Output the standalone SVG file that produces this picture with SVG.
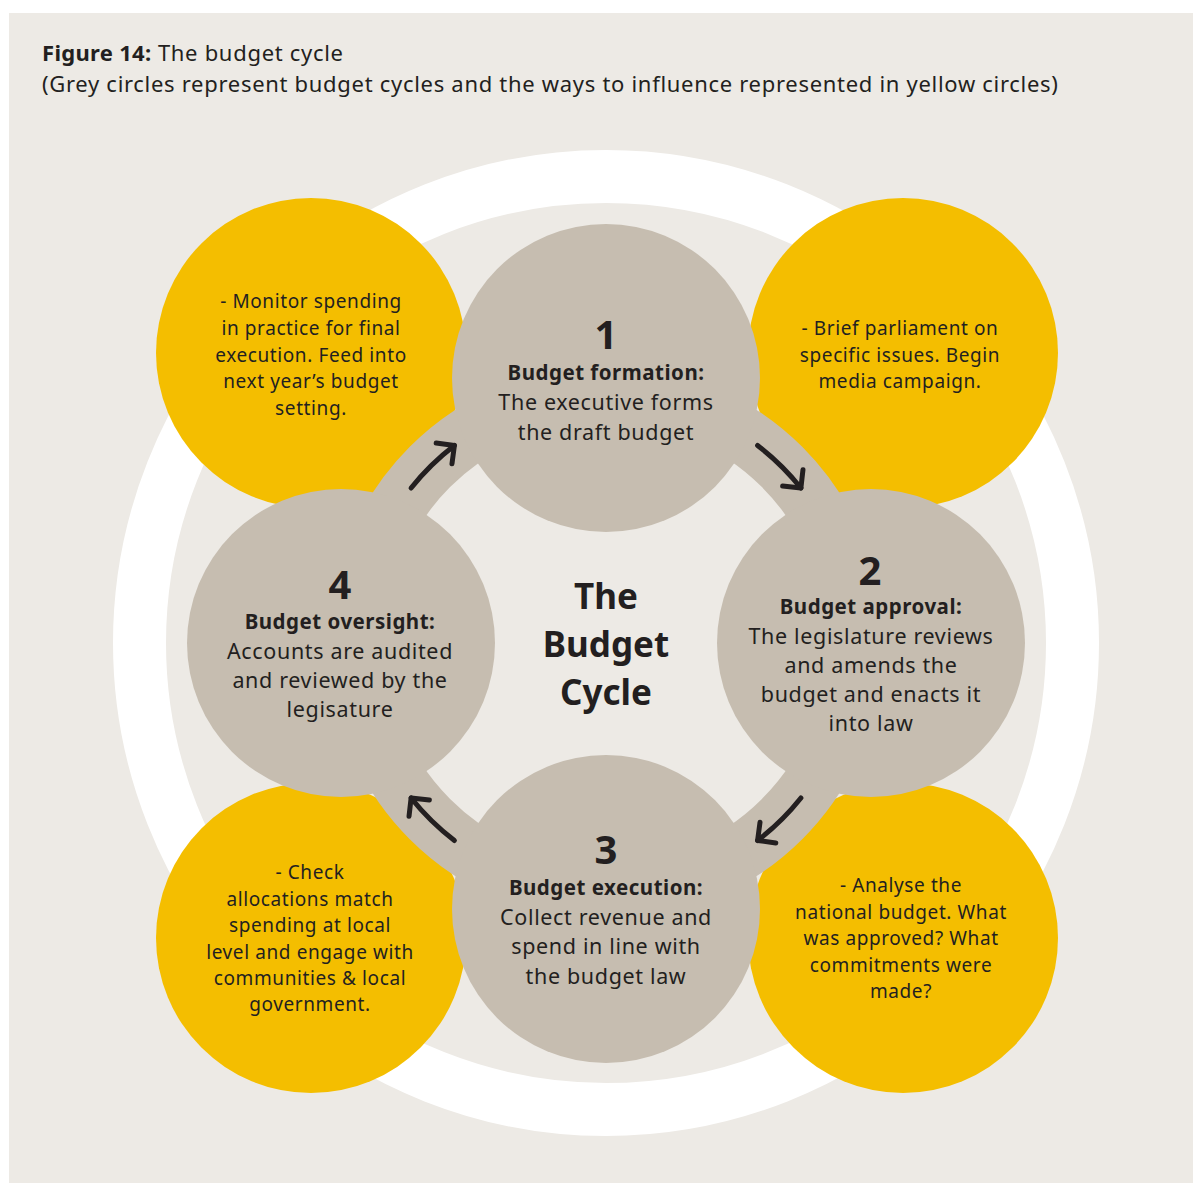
<svg xmlns="http://www.w3.org/2000/svg" width="1193" height="1183" viewBox="0 0 1193 1183">
<defs>
<style>
text{font-family:"Noto Sans","Liberation Sans",sans-serif;fill:#231f20;text-anchor:middle}
.title{text-anchor:start;font-size:22px;letter-spacing:0.7px}
.b{font-weight:bold;letter-spacing:0.3px}
.num{font-size:40px;font-weight:bold}
.head{font-size:20.5px;font-weight:bold;letter-spacing:0.5px}
.body{font-size:21.5px;letter-spacing:0.65px}
.yel{font-size:19px;letter-spacing:0.6px}
.center{font-size:35px;font-weight:bold}
.grey{fill:#c6bdb0}
.yellow{fill:#f4be00}
.arrow{fill:none;stroke:#231f20;stroke-width:5;stroke-linecap:round;stroke-linejoin:round}
</style>
<marker id="ah" markerUnits="userSpaceOnUse" orient="auto" refX="0" refY="0" markerWidth="40" markerHeight="40" overflow="visible">
<path d="M-13,-13 L0,0 L-13,13" fill="none" stroke="#231f20" stroke-width="5" stroke-linecap="round" stroke-linejoin="round"/>
</marker>
</defs>
<rect x="0" y="0" width="1193" height="1183" fill="#ffffff"/>
<rect x="9" y="13" width="1184" height="1170" fill="#edeae5"/>
<g id="title">
<text class="title" x="42" y="61"><tspan class="b">Figure 14:</tspan> The budget cycle</text>
<text class="title" x="42" y="92">(Grey circles represent budget cycles and the ways to influence represented in yellow circles)</text>
</g>
<circle id="outer-ring" cx="606" cy="643" r="466.5" fill="none" stroke="#ffffff" stroke-width="53"/>
<g id="influence-tl"><circle class="yellow" cx="311" cy="353" r="155"/>
<text class="yel" x="311" y="308">- Monitor spending</text>
<text class="yel" x="311" y="335">in practice for final</text>
<text class="yel" x="311" y="362">execution. Feed into</text>
<text class="yel" x="311" y="388">next year’s budget</text>
<text class="yel" x="311" y="415">setting.</text>
</g>
<g id="influence-tr"><circle class="yellow" cx="903" cy="353" r="155"/>
<text class="yel" x="900" y="335">- Brief parliament on</text>
<text class="yel" x="900" y="362">specific issues. Begin</text>
<text class="yel" x="900" y="388">media campaign.</text>
</g>
<g id="influence-bl"><circle class="yellow" cx="311" cy="938" r="155"/>
<text class="yel" x="310" y="879">- Check</text>
<text class="yel" x="310" y="906">allocations match</text>
<text class="yel" x="310" y="932">spending at local</text>
<text class="yel" x="310" y="959">level and engage with</text>
<text class="yel" x="310" y="985">communities &amp; local</text>
<text class="yel" x="310" y="1011">government.</text>
</g>
<g id="influence-br"><circle class="yellow" cx="903" cy="938" r="155"/>
<text class="yel" x="901" y="892">- Analyse the</text>
<text class="yel" x="901" y="919">national budget. What</text>
<text class="yel" x="901" y="945">was approved? What</text>
<text class="yel" x="901" y="972">commitments were</text>
<text class="yel" x="901" y="998">made?</text>
</g>
<circle id="cycle-ring" cx="606" cy="643" r="249" fill="none" stroke="#c6bdb0" stroke-width="57"/>
<g id="stage1"><circle class="grey" cx="606" cy="378" r="154"/>
<text class="num" x="606" y="349">1</text>
<text class="head" x="606" y="380">Budget formation:</text>
<text class="body" x="606" y="410">The executive forms</text>
<text class="body" x="606" y="440">the draft budget</text>
</g>
<g id="stage2"><circle class="grey" cx="871" cy="643" r="154"/>
<text class="num" x="870" y="585">2</text>
<text class="head" x="871" y="614">Budget approval:</text>
<text class="body" x="871" y="644">The legislature reviews</text>
<text class="body" x="871" y="673">and amends the</text>
<text class="body" x="871" y="702">budget and enacts it</text>
<text class="body" x="871" y="731">into law</text>
</g>
<g id="stage3"><circle class="grey" cx="606" cy="909" r="154"/>
<text class="num" x="606" y="864">3</text>
<text class="head" x="606" y="895">Budget execution:</text>
<text class="body" x="606" y="925">Collect revenue and</text>
<text class="body" x="606" y="954">spend in line with</text>
<text class="body" x="606" y="984">the budget law</text>
</g>
<g id="stage4"><circle class="grey" cx="341" cy="643" r="154"/>
<text class="num" x="340" y="599">4</text>
<text class="head" x="340" y="629">Budget oversight:</text>
<text class="body" x="340" y="659">Accounts are audited</text>
<text class="body" x="340" y="688">and reviewed by the</text>
<text class="body" x="340" y="717">legisature</text>
</g>
<g id="center">
<text class="center" x="606" y="609">The</text>
<text class="center" x="606" y="657">Budget</text>
<text class="center" x="606" y="705">Cycle</text>
</g>
<g id="connectors">
<path class="arrow" marker-end="url(#ah)" d="M757.6,445.5 A249,249 0 0 1 800.9,488"/>
<path class="arrow" marker-end="url(#ah)" d="M800.9,798 A249,249 0 0 1 757.6,840.5"/>
<path class="arrow" marker-end="url(#ah)" d="M454.4,840.5 A249,249 0 0 1 411.1,798"/>
<path class="arrow" marker-end="url(#ah)" d="M411.1,488 A249,249 0 0 1 454.4,445.5"/>
</g>
</svg>
